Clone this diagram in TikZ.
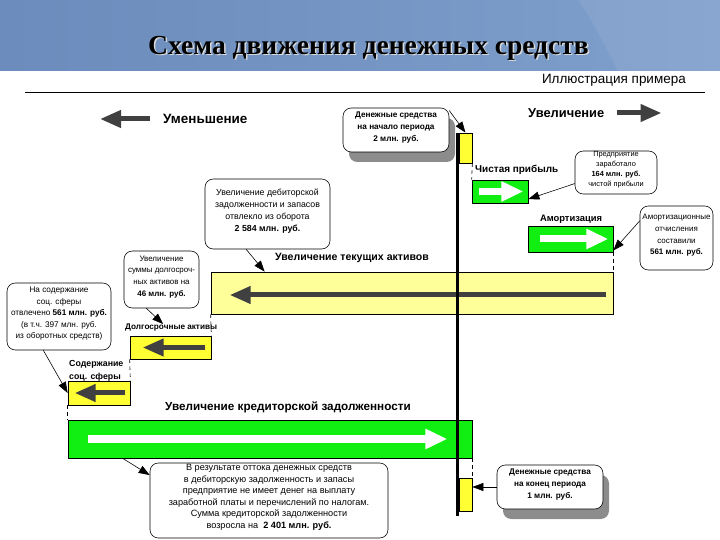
\documentclass[tikz,border=0pt]{standalone}
\usepackage{fontspec}
\setmainfont{Liberation Sans}
\newfontfamily\zagfont{Liberation Serif}
\usepackage{tikz}
\usetikzlibrary{arrows.meta,calc,fit,shadows}

\definecolor{zelen}{HTML}{11EE11}
\definecolor{zhelt}{HTML}{FFFF33}
\definecolor{svzhelt}{HTML}{FFFF99}
\definecolor{strelka}{HTML}{404040}
\definecolor{shapka1}{HTML}{6B8CBC}
\definecolor{shapka2}{HTML}{8EB0DC}
\definecolor{shapka3}{HTML}{7FA0CC}

\begin{document}
\begin{tikzpicture}[x=0.03cm, y=-0.03cm,
	bar/.style={draw=black, inner sep=0pt, line width=0.6pt},
	box/.style={draw=black, fill=white, rounded corners=0.25cm, inner sep=0pt, align=center, line width=0.5pt, font=\fontsize{7.5}{10.2}\selectfont},
	tenbox/.style={box, drop shadow={shadow xshift=0.18cm, shadow yshift=-0.3cm, fill=black!45, opacity=1}, font=\bfseries\fontsize{7}{10.2}\selectfont},
	metka/.style={font=\bfseries\fontsize{8.5}{10}\selectfont, inner sep=0pt},
	temn/.style={draw=strelka, line width=0.15cm, -{Triangle[length=0.63cm, width=0.5cm]}},
	bel/.style={draw=white, line width=0.21cm, -{Triangle[length=0.66cm, width=0.57cm]}},
	vynoska/.style={draw=black, line width=0.5pt, -{Triangle[length=0.33cm, width=0.24cm]}}
	]
	\useasboundingbox (0,0) rectangle (720,540);
	\shade[left color=shapka1, middle color=shapka2, right color=shapka3] (0,0) rectangle (720,71);
	\fill[white, opacity=0.07] (578,0) .. controls (595,25) and (605,45) .. (618,71) -- (720,71) -- (720,0) -- cycle;
	\node[font=\zagfont\bfseries\fontsize{23.5}{28}\selectfont, color=white!85!black] (zagten) at (370,49.5) {Схема движения денежных средств};
	\node[font=\zagfont\bfseries\fontsize{23.5}{28}\selectfont] (zag) at (368.5,48) {Схема движения денежных средств};
	\node[anchor=east, inner sep=0pt, font=\fontsize{11.5}{13}\selectfont] (illyu) at (686,80) {Иллюстрация примера};
	\draw[line width=0.7pt] (25,92) -- (705,92);
	
	\node[metka, anchor=west, font=\bfseries\fontsize{11.5}{13}\selectfont] (umen) at (163,119) {Уменьшение};
	\draw[temn] ($(umen.west)+(-13,0)$) -- ($(umen.west)+(-63,0)$);
	\node[metka, anchor=west, font=\bfseries\fontsize{11}{13}\selectfont] (uvel) at (528,113) {Увеличение};
	\draw[temn] ($(uvel.east)+(12,0)$) -- ($(uvel.east)+(57,0)$);
	
	\node[bar, fill=zhelt, fit={(459,133) (472,163)}] (ytop) {};
	\node[bar, fill=zelen, fit={(472,180) (528,203)}] (gpr) {};
	\node[bar, fill=zelen, fit={(528,226) (613,252)}] (gam) {};
	\node[bar, fill=svzhelt, fit={(211,272) (613,314)}] (ytek) {};
	\node[bar, fill=zhelt, fit={(130,336) (211,359)}] (ydolg) {};
	\node[bar, fill=zhelt, fit={(68,381) (130,405)}] (ysoc) {};
	\node[bar, fill=zelen, fit={(68,420) (472,458)}] (gkred) {};
	\node[bar, fill=zhelt, fit={(459,478) (472,511)}] (ybot) {};
	
	\foreach \a/\b in {ytop.south east/gpr.north west, gam.south east/ytek.north east, ytek.south west/ydolg.north east, ydolg.south west/ysoc.north east, ysoc.south west/gkred.north west, gkred.south east/ybot.north east}
		\draw[dashed, line width=0.5pt] (\a) -- (\b);
	
	\draw[bel] ($(gpr.west)+(7,0)$) -- ($(gpr.east)+(-5,0)$);
	\draw[bel] ($(gam.west)+(12,0)$) -- ($(gam.east)+(-5,0)$);
	\draw[bel] ($(gkred.west)+(20,0)$) -- ($(gkred.east)+(-25,0)$);
	\draw[temn] ($(ytek.east)+(-7,2)$) -- ($(ytek.west)+(19,2)$);
	\draw[temn] ($(ydolg.east)+(-6,0)$) -- ($(ydolg.west)+(13,0)$);
	\draw[temn] ($(ysoc.east)+(-5,0)$) -- ($(ysoc.west)+(7,0)$);
	
	\coordinate (verh) at (457.5,133);
	\coordinate (niz) at (457.5,516);
	\draw[line width=0.11cm] (verh) -- (niz);
	
	\node[metka, anchor=west] (chp) at (475,170) {Чистая прибыль};
	\node[metka, font=\bfseries\fontsize{8}{10}\selectfont] (amort) at (571,219) {Амортизация};
	\node[metka, anchor=west, font=\bfseries\fontsize{9}{11}\selectfont] (ltek) at (275,258) {Увеличение текущих активов};
	\node[metka, anchor=west, font=\bfseries\fontsize{7}{8}\selectfont] (ldolg) at (125,328) {Долгосрочные активы};
	\node[metka, anchor=west, align=left, font=\bfseries\fontsize{7.5}{11}\selectfont] (lsoc) at (69,371) {Содержание\\соц. сферы};
	\node[metka, anchor=west, font=\bfseries\fontsize{10}{12}\selectfont] (lkred) at (165,407) {Увеличение кредиторской задолженности};
	
	\node[tenbox, fit={(343,108) (449,152)}] (nach) {Денежные средства\\на начало периода\\2 млн. руб.};
	\node[tenbox, fit={(497,465) (603,509)}] (kon) {Денежные средства\\на конец периода\\1 млн. руб.};
	\node[box, font=\fontsize{6.3}{8.4}\selectfont, fit={(575,151) (657,194)}] (pribyl) {Предприятие\\заработало\\{\bfseries 164 млн. руб.}\\чистой прибыли};
	\node[box, font=\fontsize{6.8}{10}\selectfont, fit={(640,206) (713,270)}] (amortbox) {Амортизационные\\отчисления\\составили\\{\bfseries 561 млн. руб.}};
	\node[box, fit={(205,179) (330,249)}] (deb) {Увеличение дебиторской\\задолженности и запасов\\отвлекло из оборота\\{\bfseries 2 584 млн. руб.}};
	\node[box, font=\fontsize{6.8}{10}\selectfont, fit={(124,251) (199,308)}] (dolg) {Увеличение\\суммы долгосроч-\\ных активов на\\{\bfseries 46 млн. руб.}};
	\node[box, font=\fontsize{7}{9.8}\selectfont, fit={(7,283) (111,350)}] (soc) {На содержание\\соц. сферы\\отвлечено {\bfseries 561 млн. руб.}\\(в т.ч. 397 млн. руб.\\из оборотных средств)};
	\node[box, font=\fontsize{7.8}{9.9}\selectfont, fit={(150,463) (388,538)}] (kred) {В результате оттока денежных средств\\в дебиторскую задолженность и запасы\\предприятие не имеет денег на выплату\\заработной платы и перечислений по налогам.\\Сумма кредиторской задолженности\\возросла на \ {\bfseries 2 401 млн. руб.}};
	
	\draw[vynoska] (nach.20) -- (ytop.north);
	\draw[vynoska] (pribyl.195) -- (gpr.-15);
	\draw[vynoska] (amortbox.155) -- (gam.-15);
	\draw[vynoska] ($(deb.south west)!0.33!(deb.south east)$) -- ($(ytek.north west)+(54,0)$);
	\draw[vynoska] ($(dolg.south west)!0.3!(dolg.south east)$) -- ($(ldolg.north)+(-8,0)$);
	\draw[vynoska] ($(soc.south west)!0.35!(soc.south east)$) -- (ysoc.west);
	\draw[vynoska] ($(gkred.south west)+(55,0)$) -- (kred.168);
	\draw[vynoska] (kon.west) -- (kon.west -| ybot.east);
\end{tikzpicture}
\end{document}
